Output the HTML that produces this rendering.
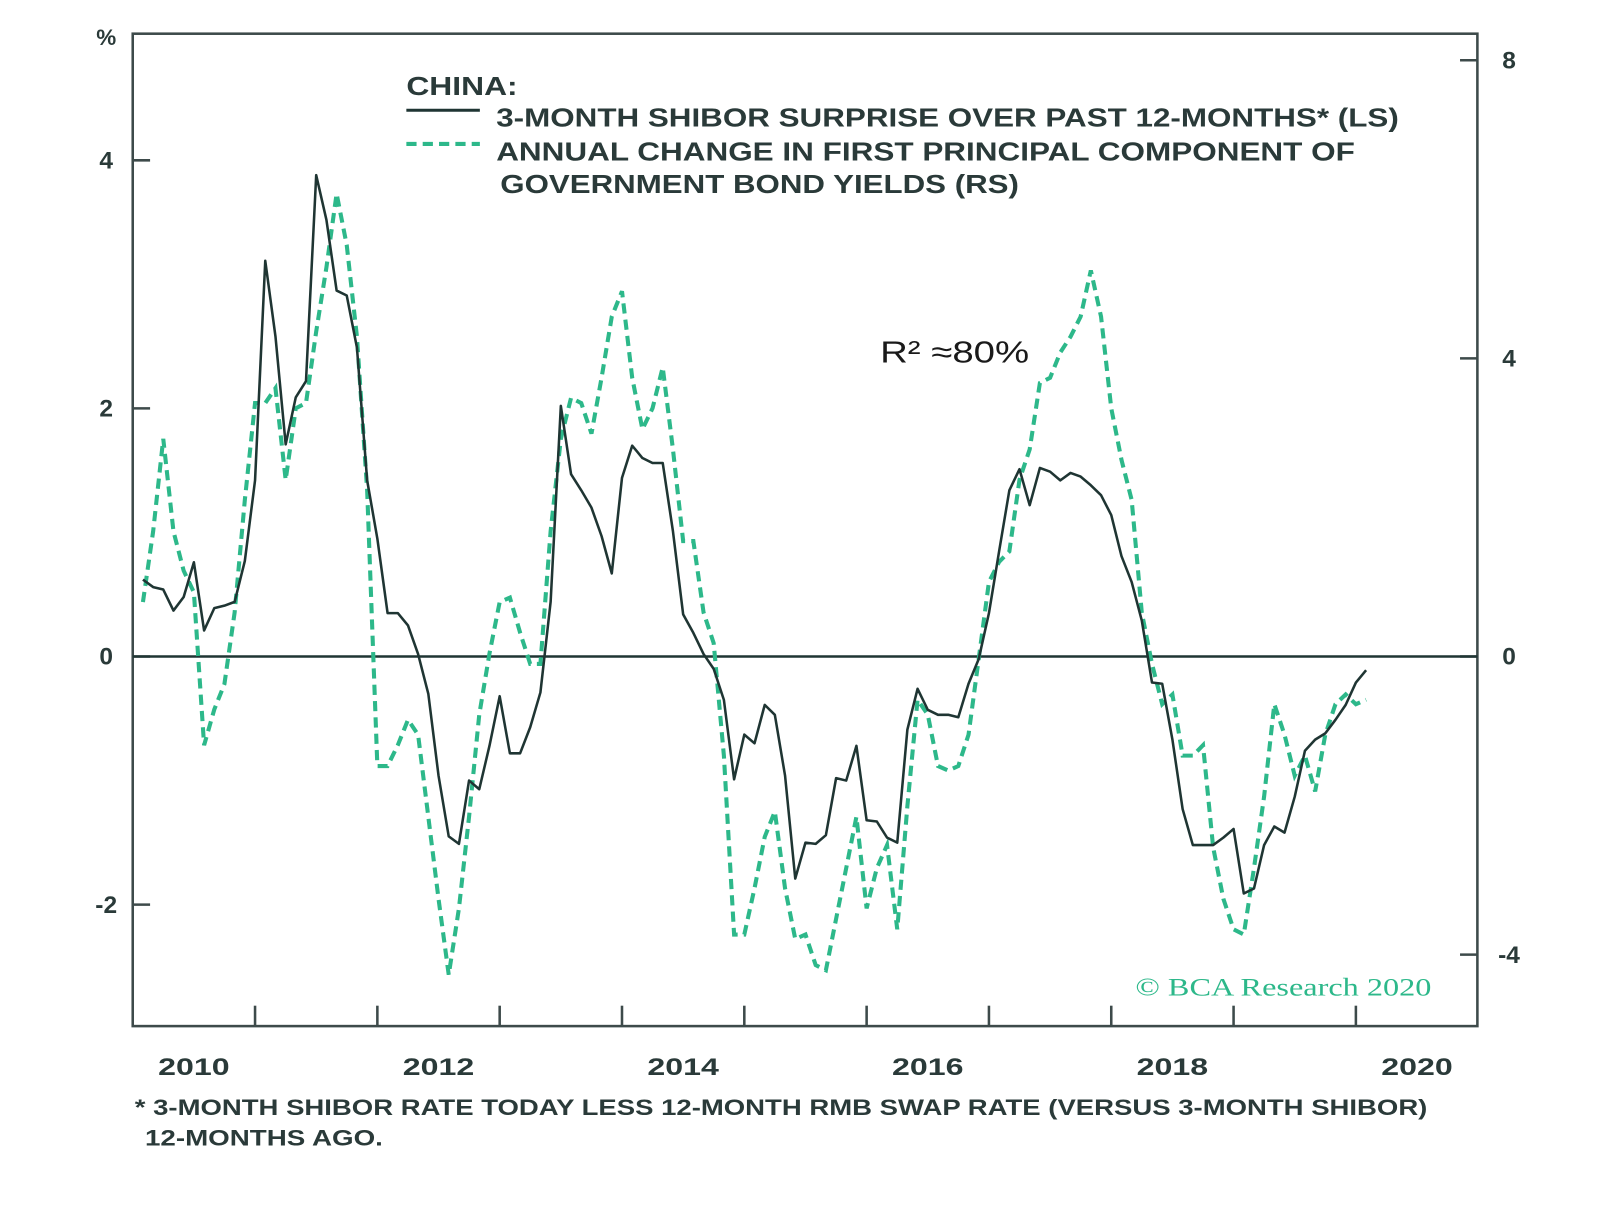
<!DOCTYPE html>
<html><head><meta charset="utf-8"><style>
html,body{margin:0;padding:0;background:#fff;}
svg text{font-family:"Liberation Sans",sans-serif;fill:#2a3a39;font-weight:bold;}
</style></head><body>
<svg id="chart" width="1600" height="1205" viewBox="0 0 1600 1205" xmlns="http://www.w3.org/2000/svg">
<g transform="scale(1.021)">
<rect x="130" y="33" width="1317" height="972" fill="none" stroke="#3d4a4a" stroke-width="2.5"/>
<g id="axes"></g>
<g id="series"></g>
<text x="104" y="44" font-size="22" text-anchor="middle">%</text>
<g>
<text x="398" y="93" font-size="25" textLength="109" lengthAdjust="spacingAndGlyphs">CHINA:</text>
<line x1="398" y1="108" x2="470" y2="108" stroke="#1f3533" stroke-width="3"/>
<text x="486" y="124" font-size="25" textLength="884" lengthAdjust="spacingAndGlyphs">3-MONTH SHIBOR SURPRISE OVER PAST 12-MONTHS* (LS)</text>
<line x1="398" y1="141" x2="470" y2="141" stroke="#2db88a" stroke-width="4" stroke-dasharray="10,6"/>
<text x="486" y="157" font-size="25" textLength="841" lengthAdjust="spacingAndGlyphs">ANNUAL CHANGE IN FIRST PRINCIPAL COMPONENT OF</text>
<text x="490" y="189" font-size="25" textLength="508" lengthAdjust="spacingAndGlyphs">GOVERNMENT BOND YIELDS (RS)</text>
</g>
<text x="862" y="355" font-size="30" textLength="146" lengthAdjust="spacingAndGlyphs" style="fill:#1a1a1a;font-weight:normal">R² ≈80%</text>
<text x="1112" y="975" font-size="25" textLength="290" lengthAdjust="spacingAndGlyphs" style="fill:#2db88a;font-family:'Liberation Serif',serif;font-weight:normal">© BCA Research 2020</text>
<text x="132" y="1092" font-size="22" textLength="1266" lengthAdjust="spacingAndGlyphs">* 3-MONTH SHIBOR RATE TODAY LESS 12-MONTH RMB SWAP RATE (VERSUS 3-MONTH SHIBOR)</text>
<text x="142" y="1122" font-size="22" textLength="233" lengthAdjust="spacingAndGlyphs">12-MONTHS AGO.</text>
</g>
</svg>
<script>
const startYear = 2010;
const leftTicks = [-2, 0, 2, 4];
const rightTicks = [-4, 0, 4, 8];
const yearLabels = [2010, 2012, 2014, 2016, 2018, 2020];
const shibor = [0.62,0.56,0.54,0.37,0.48,0.76,0.21,0.39,0.41,0.44,0.77,1.42,3.19,2.58,1.71,2.09,2.22,3.88,3.52,2.95,2.91,2.49,1.42,0.95,0.35,0.35,0.25,0.02,-0.30,-0.96,-1.45,-1.51,-1.00,-1.07,-0.72,-0.32,-0.78,-0.78,-0.57,-0.29,0.44,2.02,1.47,1.34,1.20,0.97,0.67,1.44,1.70,1.60,1.56,1.56,1.01,0.34,0.19,0.02,-0.10,-0.35,-0.99,-0.63,-0.70,-0.39,-0.47,-0.96,-1.79,-1.50,-1.51,-1.44,-0.98,-1.00,-0.72,-1.32,-1.33,-1.46,-1.50,-0.59,-0.26,-0.43,-0.47,-0.47,-0.49,-0.22,-0.02,0.35,0.85,1.34,1.51,1.22,1.52,1.49,1.42,1.48,1.45,1.38,1.30,1.14,0.81,0.60,0.29,-0.21,-0.22,-0.67,-1.23,-1.52,-1.52,-1.52,-1.46,-1.39,-1.91,-1.87,-1.52,-1.37,-1.42,-1.13,-0.76,-0.67,-0.62,-0.51,-0.39,-0.21,-0.11];
const pcChange = [0.73,1.68,2.92,1.68,1.15,0.86,-1.19,-0.71,-0.37,0.59,2.10,3.40,3.40,3.60,2.37,3.33,3.40,4.36,5.22,6.21,5.52,4.29,2.23,-1.47,-1.47,-1.19,-0.85,-1.05,-2.15,-3.25,-4.27,-3.38,-2.15,-0.78,0.04,0.73,0.79,0.32,-0.10,-0.10,1.68,2.92,3.47,3.40,2.99,3.74,4.56,4.90,3.74,3.05,3.33,3.88,2.78,1.55,1.55,0.59,0.18,-1.33,-3.73,-3.73,-3.11,-2.42,-2.08,-3.11,-3.79,-3.73,-4.14,-4.21,-3.52,-2.84,-2.15,-3.38,-2.84,-2.53,-3.66,-2.01,-0.58,-0.78,-1.47,-1.53,-1.47,-1.05,-0.03,1.00,1.27,1.41,2.37,2.78,3.67,3.74,4.08,4.29,4.56,5.18,4.56,3.33,2.64,2.10,0.59,-0.10,-0.64,-0.51,-1.33,-1.33,-1.19,-2.56,-3.25,-3.66,-3.73,-2.84,-1.88,-0.64,-1.05,-1.60,-1.33,-1.81,-1.05,-0.64,-0.51,-0.64,-0.58];

const NS = "http://www.w3.org/2000/svg";
const X0 = 130, PX_PER_YEAR = 119.8;
function xYear(y){ return X0 + (y - startYear) * PX_PER_YEAR; }
function xMonth(i){ return xYear(startYear + (i + 1) / 12); }
function yLeft(v){ return 643 - v * 121.5; }
function yRight(v){ return 643 - v * 73; }
function mk(tag, attrs, parent){ const e = document.createElementNS(NS, tag); for (const k in attrs) e.setAttribute(k, attrs[k]); parent.appendChild(e); return e; }

const axes = document.getElementById('axes');
const series = document.getElementById('series');
leftTicks.forEach(v => {
  const y = yLeft(v);
  const t = mk('line', {x1:130, x2:147, y1:y, y2:y, stroke:'#3d4a4a', 'stroke-width':2.5}, axes);
  
  
  const l = mk('text', {x:104, y:y+8, 'font-size':24, 'text-anchor':'middle'}, axes);
  l.textContent = v;
  
  
});
rightTicks.forEach(v => {
  const y = yRight(v);
  const t = mk('line', {x1:1430, x2:1447, y1:y, y2:y, stroke:'#3d4a4a', 'stroke-width':2.5}, axes);
  
  
  const l = mk('text', {x:1478, y:y+8, 'font-size':24, 'text-anchor':'middle'}, axes);
  l.textContent = v;
  
  
});
for (let yr = startYear + 1; yr <= 2020; yr++) {
  const x = xYear(yr);
  const t = mk('line', {x1:x, x2:x, y1:985, y2:1005, stroke:'#3d4a4a', 'stroke-width':2.5}, axes);
  
  
}
yearLabels.forEach(yr => {
  const l = mk('text', {x:xYear(yr + 0.5), y:1053, 'font-size':24, 'text-anchor':'middle', textLength:70, lengthAdjust:'spacingAndGlyphs'}, axes);
  l.textContent = yr;
  
  
});
const zero = mk('line', {x1:130, x2:1447, y1:yLeft(0), y2:yLeft(0), stroke:'#1f3533', 'stroke-width':2.5}, axes);



const pcPts = pcChange.map((v, i) => xMonth(i).toFixed(1) + ',' + yRight(v).toFixed(1)).join(' ');
const pc = mk('polyline', {points:pcPts, fill:'none', stroke:'#2db88a', 'stroke-width':4, 'stroke-dasharray':'10,6'}, series);


const shPts = shibor.map((v, i) => xMonth(i).toFixed(1) + ',' + yLeft(v).toFixed(1)).join(' ');
const sh = mk('polyline', {points:shPts, fill:'none', stroke:'#1f3533', 'stroke-width':2.5, 'stroke-linejoin':'round'}, series);


</script>
</body></html>
